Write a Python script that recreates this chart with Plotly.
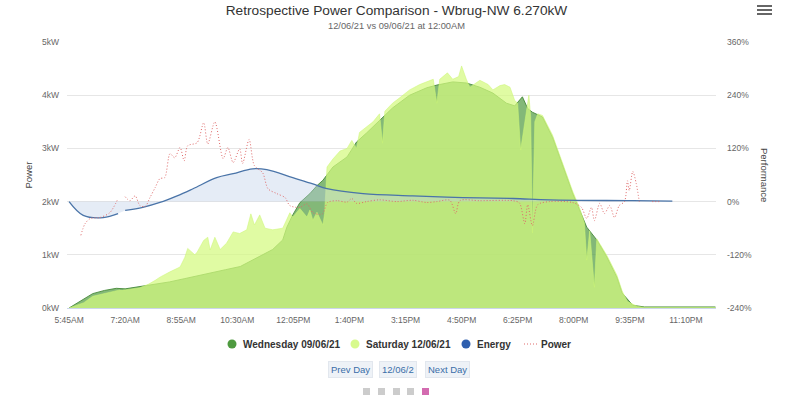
import plotly.graph_objects as go

# ---------------- data ----------------
wed_t = ["05:45","06:10","06:25","06:45","07:05","07:20","07:45","08:10","08:35","09:00","09:20","09:45","10:10","10:35","10:56","11:13","11:30","11:47","11:54","12:04","12:16","12:33","12:45","12:55","13:12","13:36","13:52","14:09","14:31","14:53","15:22","15:51","16:08","16:35","16:58","17:21","17:43","18:06","18:20","18:33","18:42","18:50","19:07","19:24","19:36","19:48","19:58","20:10","20:22","20:39","20:56","21:13","21:22","21:40","22:00","23:00","24:00"]
wed_kw = [0.0,0.17,0.27,0.33,0.37,0.36,0.40,0.44,0.49,0.55,0.60,0.67,0.72,0.78,0.90,1.00,1.10,1.28,1.52,1.75,1.98,2.15,2.30,2.40,2.65,2.84,3.12,3.29,3.53,3.76,4.00,4.14,4.19,4.25,4.23,4.15,4.04,3.85,3.80,3.97,3.75,3.68,3.59,3.21,2.84,2.46,2.16,1.84,1.52,1.28,0.96,0.58,0.28,0.05,0.02,0.02,0.02]

sat_t = ["05:45","06:10","06:25","06:45","07:05","07:11","07:14","07:17","07:20","07:45","08:00","08:11","08:19","08:36","08:53","09:01","09:06","09:18","09:22","09:33","09:40","09:44","09:52","10:01","10:12","10:23","10:34","10:46","10:53","10:59","11:08","11:17","11:30","11:47","11:59","12:04","12:16","12:28","12:33","12:38","12:45","12:55","12:58","13:02","13:12","13:24","13:36","13:44","13:52","13:57","14:09","14:20","14:31","14:36","14:40","14:53","15:05","15:22","15:39","15:51","16:02","16:08","16:13","16:26","16:35","16:45","16:50","16:58","17:04","17:21","17:35","17:43","17:55","18:03","18:12","18:20","18:25","18:30","18:37","18:44","18:47","18:50","18:54","18:59","19:07","19:24","19:36","19:48","19:58","20:10","20:18","20:22","20:27","20:35","20:39","20:56","21:13","21:22","21:31","21:48","22:00","24:00"]
sat_kw = [0.0,0.10,0.22,0.27,0.33,0.34,None,0.34,0.34,0.38,0.45,0.52,0.58,0.68,0.77,0.95,1.12,1.00,1.05,1.27,1.33,1.09,1.33,1.10,1.22,1.43,1.40,1.47,1.77,1.56,1.75,1.50,1.47,1.50,1.79,1.71,1.87,1.71,1.84,1.65,1.80,1.56,1.78,2.65,2.80,2.95,3.00,3.15,3.00,3.30,3.40,3.50,3.65,3.10,3.70,3.85,3.95,4.10,4.20,4.25,4.30,3.85,4.30,4.42,4.30,4.35,4.55,4.30,4.15,4.28,4.20,4.10,4.18,4.20,4.15,3.90,3.85,2.97,3.50,4.00,3.60,1.41,3.50,3.65,3.62,3.25,2.88,2.50,2.20,1.88,1.60,0.90,1.45,0.39,1.30,0.99,0.62,0.32,0.12,0.03,0.01,0.01]

energy_t = ["05:45","06:09","06:43","07:08","07:14","07:20","07:50","08:19","08:48","09:15","09:55","10:23","10:56","11:20","12:04","12:38","13:02","14:03","15:27","16:52","18:17","19:19","21:40","22:47"]
energy_pct = [0,-31,-36,-27,None,-20,-13,-2,13,29,54,63,74,72,54,40,29,18,13,9,7,4,2,1]

power_t = ["06:05","06:12","06:21","06:37","06:54","07:08","07:14","07:20","07:28","07:37","07:45","07:54","08:02","08:11","08:19","08:27","08:36","08:44","08:53","09:00","09:06","09:22","09:33","09:40","09:52","10:06","10:14","10:23","10:34","10:39","10:50","10:59","11:13","11:22","11:37","11:51","11:59","12:16","12:28","12:38","12:50","12:55","13:03","13:19","13:36","13:44","13:52","14:09","14:31","15:00","15:27","15:51","16:08","16:30","16:40","16:47","17:21","18:17","18:28","18:37","18:42","18:50","18:59","19:19","19:58","20:13","20:22","20:30","20:35","20:44","20:52","21:01","21:09","21:17","21:26","21:31","21:34","21:40","21:46","21:51","22:00","22:13","22:25"]
power_pct = [-76,-50,-38,-36,-25,7,None,11,2,13,-9,-11,9,32,52,54,108,99,122,92,126,133,178,130,180,97,122,88,119,86,140,81,65,29,18,9,-9,-13,-5,-25,-29,-27,-2,2,-1,7,-4,0,4,0,3,-2,0,3,-27,2,2,2,-3,-50,-7,-54,-7,0,-2,-13,-38,-13,-43,-4,-27,-9,-36,-9,0,47,25,68,40,0,None,0,0]

x_tick_times = ["05:45","07:20","08:55","10:30","12:05","13:40","15:15","16:50","18:25","20:00","21:35","23:10"]
x_tick_labels = ["5:45AM","7:20AM","8:55AM","10:30AM","12:05PM","1:40PM","3:15PM","4:50PM","6:25PM","8:00PM","9:35PM","11:10PM"]
y_ticks = [0, 1, 2, 3, 4, 5]
y_labels = ["0kW", "1kW", "2kW", "3kW", "4kW", "5kW"]
y2_ticks = [-240, -120, 0, 120, 240, 360]
y2_labels = ["-240%", "-120%", "0%", "120%", "240%", "360%"]

series_names = ["Wednesday 09/06/21", "Saturday 12/06/21", "Energy", "Power"]


def ts(hm):
    hh, mm = hm.split(":")
    if hh == "24":
        return "2021-06-13 00:%s:00" % mm
    return "2021-06-12 %s:00" % hm


FONT = "Liberation Sans, Arial, Helvetica, sans-serif"
W, H = 800, 397
L, R, T, B = 67, 84, 42, 89
PW, PH = W - L - R, H - T - B


def px(xp):
    return (xp - L) / PW


def py(yp):
    return (T + PH - yp) / PH


WED_C, SAT_C, EN_C, PW_C = "#4e9a3f", "#d7fa8c", "#2f5fae", "#e06a6a"

fig = go.Figure()

fig.add_trace(go.Scatter(
    x=[ts(t) for t in wed_t], y=wed_kw, mode="lines", fill="tozeroy",
    fillcolor="rgba(78,154,63,0.70)", line=dict(color="rgba(70,138,56,0.9)", width=1),
    showlegend=False, hoverinfo="skip", name=series_names[0]))
fig.add_trace(go.Scatter(
    x=[ts(t) for t in sat_t], y=sat_kw, mode="lines", fill="tozeroy",
    fillcolor="rgba(212,250,128,0.72)", line=dict(color="rgba(205,246,120,0.9)", width=0.6),
    connectgaps=False, showlegend=False, hoverinfo="skip", name=series_names[1]))
fig.add_trace(go.Scatter(
    x=[ts(t) for t in energy_t], y=energy_pct, mode="lines", fill="tozeroy", yaxis="y2",
    fillcolor="rgba(190,208,232,0.40)",
    line=dict(color="#4a74a8", width=1.3, shape="spline", smoothing=1.0),
    connectgaps=False, showlegend=False, hoverinfo="skip", name=series_names[2]))
fig.add_trace(go.Scatter(
    x=[ts(t) for t in power_t], y=power_pct, mode="lines", yaxis="y2",
    line=dict(color=PW_C, width=1, dash="1px,2px", shape="spline", smoothing=0.8),
    connectgaps=False, showlegend=False, hoverinfo="skip", name=series_names[3]))

fig.update_layout(
    width=W, height=H,
    margin=dict(l=L, r=R, t=T, b=B),
    paper_bgcolor="white", plot_bgcolor="white",
    font=dict(family=FONT, color="#666666"),
    title=dict(text="Retrospective Power Comparison - Wbrug-NW 6.270kW",
               x=396.5 / W, xref="container", xanchor="center",
               y=1 - 10.5 / H, yref="container", yanchor="middle",
               font=dict(family=FONT, size=13.7, color="#333333")),
    xaxis=dict(type="date", range=["2021-06-12 05:41:30", "2021-06-13 00:01:00"],
               tickvals=[ts(t) for t in x_tick_times], ticktext=x_tick_labels,
               tickfont=dict(size=8.5, color="#666666"), showgrid=False,
               showline=True, linecolor="#ccd6eb", linewidth=1, ticks="",
               ticklabelstandoff=4, zeroline=False, fixedrange=True),
    yaxis=dict(range=[0, 5], tickvals=y_ticks, ticktext=y_labels,
               tickfont=dict(size=8.5, color="#666666"), showgrid=True,
               gridcolor="#e6e6e6", gridwidth=1, zeroline=False, ticks="",
               ticklabelstandoff=7, fixedrange=True),
    yaxis2=dict(range=[-240, 360], tickvals=y2_ticks, ticktext=y2_labels,
                overlaying="y", side="right", showgrid=False, zeroline=False,
                tickfont=dict(size=8.5, color="#666666"), ticks="",
                ticklabelstandoff=10, fixedrange=True),
    showlegend=False,
)

LEG_Y = 344
annotations = [
    dict(text="12/06/21 vs 09/06/21 at 12:00AM", x=px(396.5), y=py(25.5), xref="paper", yref="paper",
         showarrow=False, font=dict(family=FONT, size=9.3, color="#666666"), xanchor="center", yanchor="middle"),
    dict(text="Power", x=px(27.5), y=0.5, xref="paper", yref="paper", textangle=-90,
         showarrow=False, font=dict(family=FONT, size=9.5, color="#444444"), xanchor="center", yanchor="middle"),
    dict(text="Performance", x=px(765), y=0.5, xref="paper", yref="paper", textangle=90,
         showarrow=False, font=dict(family=FONT, size=9.5, color="#444444"), xanchor="center", yanchor="middle"),
]
# legend (circle markers + bold labels)
leg_items = [(series_names[0], 242), (series_names[1], 365), (series_names[2], 476), (series_names[3], 540)]
for nm, x0 in leg_items:
    annotations.append(dict(text="<b>%s</b>" % nm, x=px(x0), y=py(LEG_Y), xref="paper", yref="paper",
                            showarrow=False, font=dict(family=FONT, size=10, color="#333333"),
                            xanchor="left", yanchor="middle", xshift=-1))
for label, cx in [("Prev Day", 350), ("12/06/2", 397.5), ("Next Day", 447.5)]:
    annotations.append(dict(text=label, x=px(cx), y=py(369.5), xref="paper", yref="paper",
                            showarrow=False, font=dict(family=FONT, size=9.5, color="#3a6ea8"),
                            bgcolor="#eef2f7", bordercolor="#e2e7ee", borderwidth=1, borderpad=2,
                            xanchor="center", yanchor="middle"))
fig.update_layout(annotations=annotations)

shapes = []
for c, cx in [(WED_C, 232), (SAT_C, 355), (EN_C, 466)]:
    shapes.append(dict(type="circle", xref="paper", yref="paper",
                       x0=px(cx - 4.5), x1=px(cx + 4.5), y0=py(LEG_Y + 4.5), y1=py(LEG_Y - 4.5),
                       fillcolor=c, line=dict(width=0)))
shapes.append(dict(type="line", xref="paper", yref="paper", x0=px(524), x1=px(537),
                   y0=py(LEG_Y), y1=py(LEG_Y), line=dict(color=PW_C, width=1, dash="1px,2px")))
for i, x0 in enumerate([363, 378, 393, 407, 422]):
    col = "#d36bb0" if i == 4 else "#cccccc"
    shapes.append(dict(type="rect", xref="paper", yref="paper", x0=px(x0), x1=px(x0 + 7),
                       y0=py(395), y1=py(388), fillcolor=col, line=dict(width=0)))
for yy in [6, 10, 14]:
    shapes.append(dict(type="line", xref="paper", yref="paper", x0=px(757), x1=px(772),
                       y0=py(yy), y1=py(yy), line=dict(color="#666666", width=2)))
fig.update_layout(shapes=shapes)

fig.write_html("out.html", config={"displayModeBar": False},
               post_script="document.body.style.margin='0';document.body.style.overflow='hidden';")
